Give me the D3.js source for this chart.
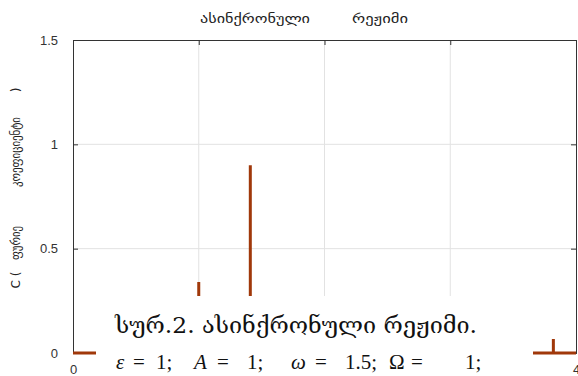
<!DOCTYPE html>
<html>
<head>
<meta charset="utf-8">
<script src="https://cdn.jsdelivr.net/npm/d3@7"></script>
<style>
  body { margin: 0; background: #fff; }
  svg { display: block; }
</style>
</head>
<body>
<script>
// spectrum data
var freqs  = [0, 1, 1, 1, 1.41, 1.41, 1.41, 3.82, 3.82, 3.82, 4];
var coeffs = [0, 0, 0.34, 0, 0, 0.90, 0, 0, 0.067, 0, 0];
var xTicks = [0, 1, 2, 3, 4];
var xLabels = ["0", "", "", "", "4"];   // 1..3 sit under the caption box
var yTicks = [0, 0.5, 1, 1.5];

var W = 578, H = 376;
var margin = {top: 40, right: 2, bottom: 23, left: 73},
    width = W - margin.left - margin.right,
    height = H - margin.top - margin.bottom;

var svg = d3.select("body").append("svg")
    .attr("width", W)
    .attr("height", H);

var g = svg.append("g")
    .attr("transform", "translate(" + margin.left + "," + margin.top + ")");

var x = d3.scaleLinear().domain([0, 4]).range([0, width]);
var y = d3.scaleLinear().domain([0, 1.5]).range([height, 0]);

var font = "'Liberation Sans', Arial, 'DejaVu Sans', sans-serif";
var geo = "'DejaVu Sans', sans-serif";

// grid
g.selectAll(".vgrid").data(xTicks.slice(1, -1)).enter().append("line")
    .attr("x1", d => x(d)).attr("x2", d => x(d))
    .attr("y1", 0).attr("y2", height)
    .attr("stroke", "#e2e2e2").attr("stroke-width", 1);
g.selectAll(".hgrid").data(yTicks.slice(1, -1)).enter().append("line")
    .attr("y1", d => y(d)).attr("y2", d => y(d))
    .attr("x1", 0).attr("x2", width)
    .attr("stroke", "#e2e2e2").attr("stroke-width", 1);

// axes (ticks pointing inward, mirrored on top/right)
function styleAxis(sel) {
  sel.select(".domain").attr("stroke", "#333");
  sel.selectAll(".tick line").attr("stroke", "#333");
  sel.selectAll(".tick text").attr("fill", "#333")
     .style("font-family", font).style("font-size", "13px");
}

g.append("g")
    .attr("transform", "translate(0," + height + ")")
    .call(d3.axisBottom(x).tickValues(xTicks).tickSize(-5).tickPadding(12)
      .tickFormat((d, i) => xLabels[i]))
    .call(styleAxis);

g.append("g")
    .call(d3.axisLeft(y).tickValues(yTicks).tickSize(-5).tickPadding(15)
      .tickFormat(d => d === 0 || d === 1 ? d : d3.format(".1f")(d)))
    .call(styleAxis);

g.append("g")
    .call(d3.axisTop(x).tickValues(xTicks).tickSize(-5).tickFormat(""))
    .call(styleAxis);

g.append("g")
    .attr("transform", "translate(" + width + ",0)")
    .call(d3.axisRight(y).tickValues(yTicks).tickSize(-5).tickFormat(""))
    .call(styleAxis);

// spectrum line
var pts = freqs.map((f, i) => [f, coeffs[i]]);
g.append("path")
    .datum(pts)
    .attr("fill", "none")
    .attr("stroke", "#a0380a")
    .attr("stroke-width", 3)
    .attr("d", d3.line().x(d => x(d[0])).y(d => y(d[1])));

// title (two words with a wide gap)
svg.append("text")
    .attr("x", 200).attr("y", 23)
    .attr("textLength", 110).attr("lengthAdjust", "spacingAndGlyphs")
    .style("font-family", geo).style("font-size", "13px")
    .attr("fill", "#222")
    .text("ასინქრონული");
svg.append("text")
    .attr("x", 352).attr("y", 23)
    .attr("textLength", 56).attr("lengthAdjust", "spacingAndGlyphs")
    .style("font-family", geo).style("font-size", "13px")
    .attr("fill", "#222")
    .text("რეჟიმი");

// y label, rotated, in pieces
var ylab = [["C (", 280, 0], ["ფურიე", 243, 34], ["კოეფიციენტი", 152, 70], [")", 90, 0]];
ylab.forEach(p => {
  var t = svg.append("text")
      .attr("transform", "translate(20," + p[1] + ") rotate(-90)")
      .attr("text-anchor", "middle")
      .style("font-family", geo).style("font-size", "12px")
      .attr("fill", "#222")
      .style("white-space", "pre")
      .text(p[0]);
  if (p[2]) t.attr("textLength", p[2]).attr("lengthAdjust", "spacingAndGlyphs");
});

// caption box overlaying the plot
svg.append("rect")
    .attr("x", 96).attr("y", 296)
    .attr("width", 437).attr("height", 80)
    .attr("fill", "#fff");

svg.append("text")
    .attr("x", 115).attr("y", 333)
    .attr("textLength", 362).attr("lengthAdjust", "spacingAndGlyphs")
    .style("font-family", "'DejaVu Serif', 'Liberation Serif', serif")
    .style("font-size", "22px")
    .attr("fill", "#111")
    .text("სურ.2. ასინქრონული რეჟიმი.");

var capParts = [["ε", 116, 1], ["=", 133, 0], ["1;", 156, 0], ["A", 194, 1], ["=", 217, 0], ["1;", 247, 0],
                ["ω", 291, 1], ["=", 315, 0], ["1.5;", 345, 0], ["Ω", 389, 0], ["=", 411, 0], ["1;", 465, 0]];
var cap = svg.append("text")
    .attr("y", 369)
    .style("font-family", "'Liberation Serif', serif")
    .style("font-size", "21px")
    .attr("fill", "#111");
capParts.forEach(p => {
  cap.append("tspan").attr("x", p[1])
     .style("font-style", p[2] ? "italic" : "normal")
     .text(p[0]);
});
</script>
</body>
</html>
